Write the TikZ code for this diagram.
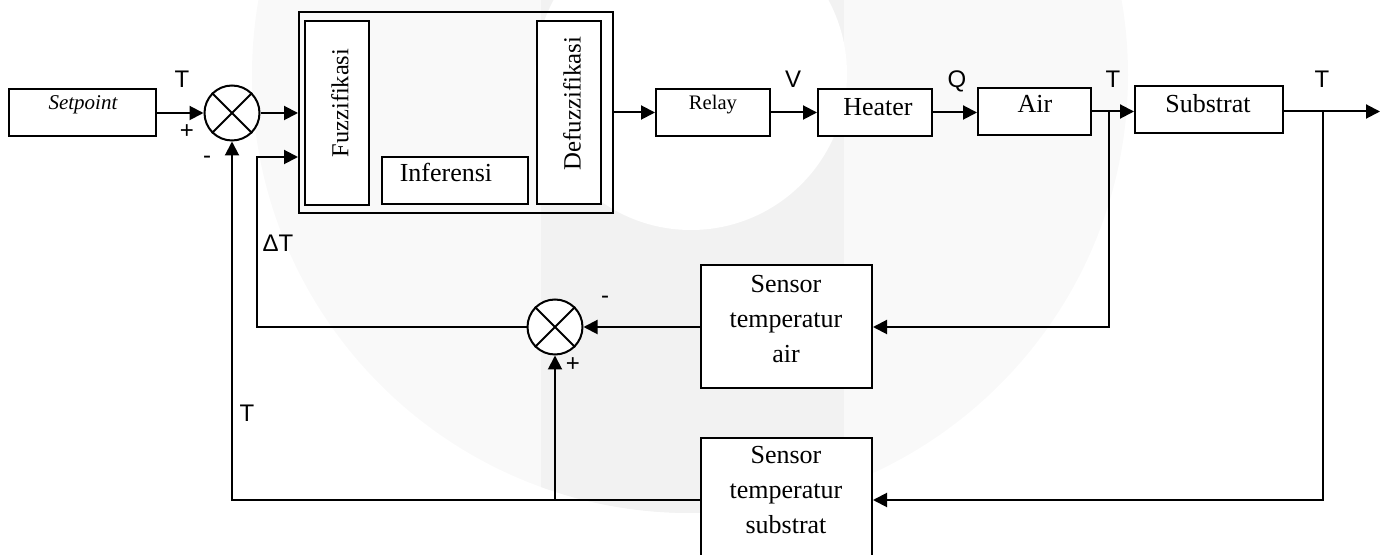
\documentclass[tikz,border=0pt]{standalone}
\usepackage{fontspec}
\setmainfont{Liberation Serif}
\newfontfamily\lblfont{Liberation Sans}
\usetikzlibrary{arrows.meta}
\begin{document}
\begin{tikzpicture}[x=0.5pt,y=-0.5pt,
  box/.style={draw,line width=1pt,fill=white,inner sep=0pt},
  sumc/.style={draw,circle,line width=1pt,fill=white,minimum size=27.5pt,inner sep=0pt},
  txt/.style={inner sep=0pt,font=\fontsize{13}{17.5}\selectfont},
  lbl/.style={inner sep=0pt,font=\lblfont\fontsize{12}{14}\selectfont},
  arr/.style={line width=1pt,-{Triangle[length=7pt,width=7pt]}},
  ln/.style={line width=1pt}]
\useasboundingbox (0,0) rectangle (1388,555);
% watermark
\fill[gray!5] (690,75) circle[radius=438];
\begin{scope}
  \clip (690,75) circle[radius=438];
  \fill[gray!10] (541,-20) rectangle (844,600);
\end{scope}
\fill[white] (691,74) circle[radius=156];
% blocks
\node[box,minimum width=73.5pt,minimum height=23.5pt] (set) at (82.5,113) {};
\node[txt,anchor=base,font=\fontsize{10.5}{12}\selectfont\itshape] (tset) at (83,110) {Setpoint};
\node[sumc] (s1) at (232,113) {};
\draw[ln] (s1.north west) -- (s1.south east) (s1.north east) -- (s1.south west);
\node[draw,line width=1pt,inner sep=0pt,minimum width=157pt,minimum height=100.5pt] (ctl) at (456,112.5) {};
\node[box,minimum width=32pt,minimum height=92pt] (fz) at (337,113) {};
\node[txt,rotate=90,font=\fontsize{12.2}{14}\selectfont] (tfz) at (340,103) {Fuzzifikasi};
\node[box,minimum width=73pt,minimum height=23.5pt] (inf) at (455,180.5) {};
\node[txt,anchor=base] (tinf) at (446,182) {Inferensi};
\node[box,minimum width=32pt,minimum height=91.5pt] (dfz) at (569,112.5) {};
\node[txt,rotate=90,font=\fontsize{12.4}{14}\selectfont] (tdfz) at (572,103.5) {Defuzzifikasi};
\node[box,minimum width=57pt,minimum height=23.5pt] (rel) at (713,112.5) {};
\node[txt,anchor=base,font=\fontsize{10.3}{12}\selectfont] (trel) at (713,110) {Relay};
\node[box,minimum width=57pt,minimum height=23.5pt] (heat) at (875,112.5) {};
\node[txt,anchor=base] (theat) at (878,116) {Heater};
\node[box,minimum width=56.5pt,minimum height=23.5pt] (air) at (1034.5,111.5) {};
\node[txt,anchor=base] (tair) at (1035,113) {Air};
\node[box,minimum width=74pt,minimum height=23.5pt] (sub) at (1209,109.5) {};
\node[txt,anchor=base] (tsub) at (1208,112.5) {Substrat};
\node[box,minimum width=85.5pt,minimum height=61.5pt] (sa) at (786.5,327) {};
\node[txt,anchor=north,align=center] (tsa) at (786,275) {Sensor\\temperatur\\air};
\node[box,minimum width=85.5pt,minimum height=61.5pt] (ss) at (786.5,500) {};
\node[txt,anchor=north,align=center] (tss) at (786,446) {Sensor\\temperatur\\substrat};
\node[sumc] (s2) at (555,327) {};
\draw[ln] (s2.north west) -- (s2.south east) (s2.north east) -- (s2.south west);
% coordinates
\coordinate (j1) at (1109,111.5);
\coordinate (j2) at (1323,111.5);
\coordinate (out) at (1380,111.5);
\coordinate (fb) at (257,157);
% connectors
\draw[arr] (set.east) -- (s1.west);
\draw[arr] (s1.east) -- (s1.east -| ctl.west);
\draw[arr] (ctl.east |- rel.west) -- (rel.west);
\draw[arr] (rel.east) -- (heat.west);
\draw[arr] (heat.east) -- (heat.east -| air.west);
\draw[arr] (air.east) -- (air.east -| sub.west);
\draw[arr] (air.east -| sub.east) -- (out);
\draw[arr] (j1) |- (sa.east);
\draw[arr] (sa.west) -- (s2.east);
\draw[arr] (s2.west) -| (fb) -- (fb -| ctl.west);
\draw[arr] (j2) |- (ss.east);
\draw[arr] (ss.west) -| (s1.south);
\draw[arr] (s2.south |- ss.west) -- (s2.south);
% labels
\node[lbl,anchor=base] (lT1) at (182,88) {T};
\node[lbl] (lp1) at (187,132) {+};
\node[lbl] (lm1) at (207,160) {-};
\node[lbl,anchor=base] (lV) at (793,88) {V};
\node[lbl,anchor=base] (lQ) at (957,88) {Q};
\node[lbl,anchor=base] (lT2) at (1113,88) {T};
\node[lbl,anchor=base] (lT3) at (1322,88) {T};
\node[lbl,anchor=base] (ldT) at (278,252) {ΔT};
\node[lbl] (lm2) at (605,300) {-};
\node[lbl] (lp2) at (573,365) {+};
\node[lbl,anchor=base] (lT4) at (247,422) {T};
\end{tikzpicture}
\end{document}
